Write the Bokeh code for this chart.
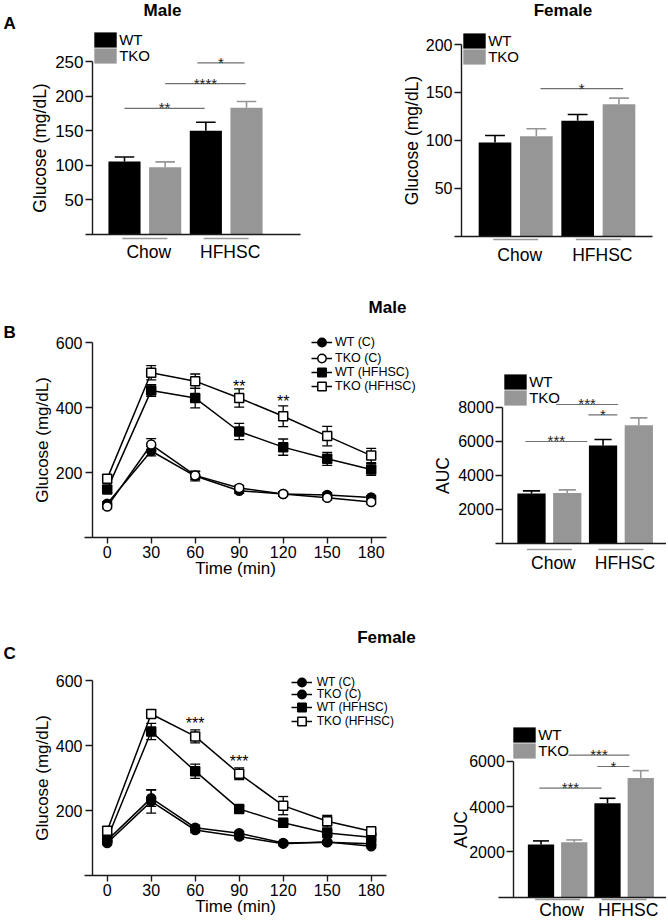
from bokeh.plotting import figure
from bokeh.models import Range1d, LinearAxis, FixedTicker, Legend, LegendItem, Label
from bokeh.layouts import column, row
from bokeh.core.properties import value
from bokeh.embed import file_html
from bokeh.resources import INLINE

FONT = "Liberation Sans"
AX = "#1a1a1a"
GRAY = "#969696"
LINEGRAY = "#9a9a9a"
SIGGRAY = "#707070"
TDY = 5  # svg text sits this many px below the requested alphabetic baseline

# ---------------- data ----------------
diets = ["Chow", "HFHSC"]
genotypes = ["WT", "TKO"]
genotype_colors = ["#000000", GRAY]

# A: fasting glucose (mg/dL)
male_glc_wt = [105, 149.5]
male_glc_wt_err = [6.6, 12.5]
male_glc_tko = [96.8, 183]
male_glc_tko_err = [7.8, 9]
female_glc_wt = [97.7, 120.3]
female_glc_wt_err = [7.3, 6.7]
female_glc_tko = [104.3, 137.7]
female_glc_tko_err = [7.7, 6.3]

# B / C: glucose tolerance test
times = [0, 30, 60, 90, 120, 150, 180]
gtt_series = ["WT (C)", "TKO (C)", "WT (HFHSC)", "TKO (HFHSC)"]

male_wt_c = [105, 267, 190, 145, 135, 132, 124]
male_wt_c_err = [6, 15, 15, 8, 6, 6, 6]
male_tko_c = [96, 287, 192, 153, 135, 123, 110]
male_tko_c_err = [6, 18, 12, 8, 6, 6, 6]
male_wt_h = [149, 453, 430, 327, 279, 243, 210]
male_wt_h_err = [10, 18, 30, 25, 25, 20, 18]
male_tko_h = [182, 508, 482, 430, 374, 313, 253]
male_tko_h_err = [12, 22, 22, 28, 32, 30, 22]

female_wt_c = [100, 228, 140, 120, 98, 103, 90]
female_wt_c_err = [6, 36, 8, 8, 5, 5, 5]
female_tko_c = [108, 238, 147, 130, 100, 102, 98]
female_tko_c_err = [6, 25, 8, 6, 5, 5, 5]
female_wt_h = [113, 443, 321, 205, 162, 131, 118]
female_wt_h_err = [8, 25, 22, 8, 6, 6, 6]
female_tko_h = [138, 497, 428, 313, 215, 167, 136]
female_tko_h_err = [8, 12, 20, 18, 28, 18, 8]

# AUC
auc_male_wt = [2933, 5748]
auc_male_wt_err = [156, 352]
auc_male_tko = [2972, 6940]
auc_male_tko_err = [176, 430]
auc_female_wt = [2324, 4147]
auc_female_wt_err = [161, 221]
auc_female_tko = [2426, 5265]
auc_female_tko_err = [103, 323]

# significance marks (bar charts): span in bar slots, level in data units
male_glc_sig_from = [0, 1, 1.79]
male_glc_sig_to = [1.97, 2.98, 2.95]
male_glc_sig_level = [182, 218, 248]
male_glc_sig_text = ["**", "****", "*"]
female_glc_sig_from = [1.1]
female_glc_sig_to = [3.1]
female_glc_sig_level = [154]
female_glc_sig_text = ["*"]
auc_male_sig_from = [-0.17, 0.69, 1.59]
auc_male_sig_to = [1.56, 2.42, 2.40]
auc_male_sig_level = [5985, 8154, 7550]
auc_male_sig_text = ["***", "***", "*"]
auc_female_sig_from = [-0.05, 0.83, 1.69]
auc_female_sig_to = [1.82, 2.66, 2.66]
auc_female_sig_level = [4812, 6269, 5770]
auc_female_sig_text = ["***", "***", "*"]

# significance marks (GTT)
male_gtt_star_t = [90, 120]
male_gtt_star_y = [479, 431]
male_gtt_star_text = ["**", "**"]
female_gtt_star_t = [60, 90]
female_gtt_star_y = [479, 362]
female_gtt_star_text = ["***", "***"]


# ---------------- helpers ----------------
class Panel:
    """A figure whose frame fills its canvas; X/Y convert page pixels to data."""
    def __init__(self, fx0, fy0, W, H, px0, sx, py0, sy):
        self.fx0, self.fy0, self.W, self.H = fx0, fy0, W, H
        self.px0, self.sx, self.py0, self.sy = px0, sx, py0, sy
        self.p = figure(width=W, height=H,
                        x_range=Range1d(self.X(fx0), self.X(fx0 + W)),
                        y_range=Range1d(self.Y(fy0 + H), self.Y(fy0)),
                        x_axis_type=None, y_axis_type=None,
                        toolbar_location=None, output_backend="svg",
                        min_border=0, outline_line_color=None)

    def X(self, px):
        return (px - self.px0) / self.sx

    def Y(self, py):
        return (self.py0 - py) / self.sy


def style_axis(ax, tick_fs, label_fs):
    ax.axis_line_color = AX
    ax.axis_line_width = 1.4
    ax.major_tick_line_color = AX
    ax.major_tick_line_width = 1.4
    ax.minor_tick_line_color = None
    ax.major_tick_in = 0
    ax.major_label_text_font = FONT
    ax.major_label_text_font_size = tick_fs
    ax.major_label_text_color = "black"
    ax.axis_label_text_font = FONT
    ax.axis_label_text_font_size = label_fs
    ax.axis_label_text_font_style = "normal"
    ax.axis_label_text_color = "black"


def add_yaxis(P, ax_px, top, ticks, label, tick_fs, label_fs, lab_so, axl_so):
    ax = LinearAxis(fixed_location=P.X(ax_px), bounds=(0, top),
                    ticker=FixedTicker(ticks=ticks), axis_label=label)
    style_axis(ax, tick_fs, label_fs)
    ax.major_tick_out = 7
    ax.major_label_standoff = lab_so
    ax.axis_label_standoff = axl_so
    P.p.add_layout(ax, "left")


def add_text_label(P, px, py, text, size, bold=False, align="center"):
    P.p.add_layout(Label(x=P.X(px), y=P.Y(py - TDY), text=text, text_align=align,
                         text_baseline="alphabetic", text_font=FONT,
                         text_font_size=size,
                         text_font_style="bold" if bold else "normal",
                         text_color="black"))


def add_legend_row(P, item, cell_left, cell_top, gw, gh, fs, standoff):
    """One legend entry per Legend so rows can sit closer than the glyph cell."""
    leg = Legend(items=[item],
                 location=(cell_left - P.fx0, P.fy0 + P.H - (cell_top + gh)),
                 glyph_width=gw, glyph_height=gh, label_height=gh, label_width=10,
                 spacing=0, padding=0, margin=0, label_standoff=standoff,
                 label_text_font=FONT, label_text_font_size=fs,
                 label_text_color="black",
                 border_line_alpha=0, background_fill_alpha=0)
    P.p.add_layout(leg)


def bar_panel(P, vals, errs, yaxis_px, top, ticks, ylabel, tick_fs, ylab_so,
              xaxis_px, underline_py, group_base_py, legend_box,
              sig_from, sig_to, sig_level, sig_text):
    p = P.p
    renderers = []
    for g_i, (v, e, color) in enumerate(zip(vals, errs, genotype_colors)):
        xs = [2 * d_i + g_i for d_i in range(len(diets))]
        tops = [a + b for a, b in zip(v, e)]
        p.segment(x0=xs, y0=v, x1=xs, y1=tops, line_color=color, line_width=1.6)
        p.segment(x0=[x - 0.24 for x in xs], y0=tops, x1=[x + 0.24 for x in xs],
                  y1=tops, line_color=color, line_width=1.6)
        r = p.vbar(x=xs, top=v, bottom=0, width=0.79, fill_color=color, line_color=None)
        renderers.append(r)

    # axes
    add_yaxis(P, yaxis_px, top, ticks, ylabel, tick_fs, "17.5px", 2, ylab_so)
    xax = LinearAxis(fixed_location=0, bounds=(P.X(xaxis_px[0]), P.X(xaxis_px[1])),
                     ticker=FixedTicker(ticks=[]))
    style_axis(xax, "10px", "10px")
    xax.major_tick_line_color = None
    p.add_layout(xax, "below")

    # diet groups
    centers = [(2 * d_i + 2 * d_i + 1) / 2 for d_i in range(len(diets))]
    half = 22.5 / P.sx
    uy = P.Y(underline_py)
    p.segment(x0=[c - half for c in centers], y0=[uy] * len(centers),
              x1=[c + half for c in centers], y1=[uy] * len(centers),
              line_color=LINEGRAY, line_width=1.6)
    p.text(x=centers, y=[P.Y(group_base_py - TDY)] * len(centers), text=diets,
           x_offset=4, text_align="center", text_baseline="alphabetic",
           text_font=value(FONT), text_font_size="17.5px", text_color="black")

    # significance
    p.segment(x0=sig_from, y0=sig_level, x1=sig_to, y1=sig_level,
              line_color=SIGGRAY, line_width=1.2)
    p.text(x=[(a + b) / 2 for a, b in zip(sig_from, sig_to)],
           y=[lv - (4.5 - TDY) / P.sy for lv in sig_level], text=sig_text,
           text_align="center", text_baseline="alphabetic",
           text_font=value(FONT), text_font_size="15px", text_color="#222222")

    # legend: boxes are drawn at 80% of the glyph cell; rows 15.5 px apart
    gw, gh = 28, 19
    bl, bt = legend_box
    for k, (g, r) in enumerate(zip(genotypes, renderers)):
        add_legend_row(P, LegendItem(label=g, renderers=[r]),
                       bl - 2.8, bt + 15.5 * k - 1.9, gw, gh, "15px", -1)


def line_panel(P, vals_list, errs_list, markers, fills, legend_left, legend_rows,
               legend_fs, legend_so, star_t, star_y, star_text):
    p = P.p
    cap = 3.4
    for v, e in zip(vals_list, errs_list):
        lo = [a - b for a, b in zip(v, e)]
        hi = [a + b for a, b in zip(v, e)]
        p.segment(x0=times, y0=lo, x1=times, y1=hi, line_color="black", line_width=1.3)
        for yy in (lo, hi):
            p.segment(x0=[t - cap for t in times], y0=yy, x1=[t + cap for t in times],
                      y1=yy, line_color="black", line_width=1.3)
    line_rs = []
    for v in vals_list:
        line_rs.append(p.line(times, v, line_color="black", line_width=1.5))
    items = []
    for name, v, mk, fill, rl in zip(gtt_series, vals_list, markers, fills, line_rs):
        rs = p.scatter(times, v, marker=mk, size=9, fill_color=fill,
                       line_color="black", line_width=1.5)
        items.append(LegendItem(label=name, renderers=[rl, rs]))

    # axes
    add_yaxis(P, 92, 600, [200, 400, 600], "Glucose (mg/dL)", "16px", "17px", 3, 1)
    xax = LinearAxis(fixed_location=0, bounds=(P.X(84), P.X(386)),
                     ticker=FixedTicker(ticks=times), axis_label="Time (min)")
    style_axis(xax, "16px", "17px")
    xax.major_tick_out = 6
    xax.major_label_standoff = 2
    xax.axis_label_standoff = -2
    p.add_layout(xax, "below")

    # stars (visual centre at the given level)
    p.text(x=star_t, y=[s - (9 - TDY) / P.sy for s in star_y], text=star_text,
           text_align="center", text_baseline="alphabetic",
           text_font=value(FONT), text_font_size="16px", text_color="black")

    # legend: one row per Legend, glyph cell 21x22 (marker = 0.4 * 21)
    gw, gh = 21, 22
    for item, cy in zip(items, legend_rows):
        add_legend_row(P, item, legend_left, cy - gh / 2, gw, gh, legend_fs, legend_so)


# ---------------- panels (page origin at top-left, no body margin) ----------------
am = Panel(0, 0, 340, 290, 124, 40.67, 233.5, 0.69)
af = Panel(340, 0, 326, 290, 494.5, 41.33, 235.6, 0.958)
bl = Panel(0, 290, 430, 330, 106.7, 1.4667, 537.3, 0.325)
bb = Panel(430, 290, 236, 330, 531, 35.77, 543.1, 0.01706)
cl = Panel(0, 620, 430, 300, 106.7, 1.4667, 875, 0.325)
cb = Panel(430, 620, 236, 300, 540.5, 33.25, 896.7, 0.02265)

bar_panel(am, [male_glc_wt, male_glc_tko], [male_glc_wt_err, male_glc_tko_err],
          92, 250, [50, 100, 150, 200, 250], "Glucose (mg/dL)", "17px", 2,
          (85, 300), 238, 256.7, (94, 32),
          male_glc_sig_from, male_glc_sig_to, male_glc_sig_level, male_glc_sig_text)
add_text_label(am, 162, 15, "Male", "17px", bold=True)
add_text_label(am, 3, 28, "A", "17px", bold=True, align="left")

bar_panel(af, [female_glc_wt, female_glc_tko], [female_glc_wt_err, female_glc_tko_err],
          461, 200, [50, 100, 150, 200], "Glucose (mg/dL)", "16px", 1,
          (454, 652), 239, 259, (463, 33),
          female_glc_sig_from, female_glc_sig_to, female_glc_sig_level, female_glc_sig_text)
add_text_label(af, 562.5, 15, "Female", "17px", bold=True)

line_panel(bl, [male_wt_c, male_tko_c, male_wt_h, male_tko_h],
           [male_wt_c_err, male_tko_c_err, male_wt_h_err, male_tko_h_err],
           ["circle", "circle", "square", "square"], ["black", "white", "black", "white"],
           311, [342.3, 357.5, 371.7, 385.7], "12.5px", 3,
           male_gtt_star_t, male_gtt_star_y, male_gtt_star_text)
add_text_label(bl, 387, 311.7, "Male", "17px", bold=True)
add_text_label(bl, 3, 337, "B", "17px", bold=True, align="left")

bar_panel(bb, [auc_male_wt, auc_male_tko], [auc_male_wt_err, auc_male_tko_err],
          502.3, 8000, [2000, 4000, 6000, 8000], "AUC", "16px", 2,
          (495, 670), 549, 567, (504, 374),
          auc_male_sig_from, auc_male_sig_to, auc_male_sig_level, auc_male_sig_text)

line_panel(cl, [female_wt_c, female_tko_c, female_wt_h, female_tko_h],
           [female_wt_c_err, female_tko_c_err, female_wt_h_err, female_tko_h_err],
           ["circle", "circle", "square", "square"], ["black", "black", "black", "white"],
           290.7, [681.7, 694.3, 707.3, 720.7], "12px", 5,
           female_gtt_star_t, female_gtt_star_y, female_gtt_star_text)
add_text_label(cl, 386, 641.7, "Female", "17px", bold=True)
add_text_label(cl, 3, 658, "C", "17px", bold=True, align="left")

bar_panel(cb, [auc_female_wt, auc_female_tko], [auc_female_wt_err, auc_female_tko_err],
          513.3, 6000, [2000, 4000, 6000], "AUC", "16px", -5,
          (498, 670), 899, 914, (513, 727),
          auc_female_sig_from, auc_female_sig_to, auc_female_sig_level, auc_female_sig_text)

layout = column(row(am.p, af.p), row(bl.p, bb.p), row(cl.p, cb.p))

with open("out.html", "w") as f:
    f.write(file_html(layout, INLINE))
